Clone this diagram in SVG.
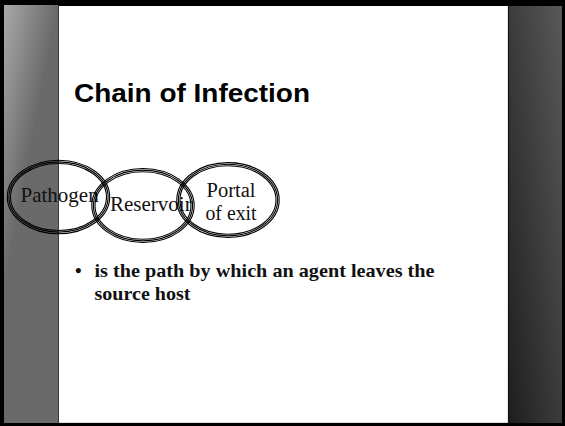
<svg xmlns="http://www.w3.org/2000/svg" width="565" height="426" viewBox="0 0 565 426">
  <defs>
    <linearGradient id="leftBand" gradientUnits="userSpaceOnUse" x1="4" y1="6" x2="56" y2="16">
      <stop offset="0" stop-color="#a8a8a8"/>
      <stop offset="1" stop-color="#6a6a6a"/>
    </linearGradient>
    <linearGradient id="rightBand" gradientUnits="userSpaceOnUse" x1="508" y1="423" x2="614" y2="409">
      <stop offset="0" stop-color="#1e1e1e"/>
      <stop offset="1" stop-color="#585858"/>
    </linearGradient>
  </defs>
  <style>
    .ring { fill: none; stroke: #000; stroke-width: 1.1; }
    .label { font-family: "Liberation Serif", "Times New Roman", serif; font-size: 21px; fill: #111; }
    .label-sm { font-family: "Liberation Serif", "Times New Roman", serif; font-size: 20px; fill: #111; }
    .title { font-family: "Liberation Sans", Arial, sans-serif; font-weight: bold; font-size: 25px; fill: #000; }
    .body { font-family: "Liberation Serif", "Times New Roman", serif; font-weight: bold; font-size: 19px; fill: #111; }
  </style>

  <!-- slide frame and side bands -->
  <g id="background">
    <rect x="0" y="0" width="565" height="426" fill="#000"/>
    <rect x="4" y="5" width="54" height="418" fill="url(#leftBand)"/>
    <rect x="59" y="6" width="449" height="417" fill="#fff"/>
    <line x1="59" y1="422.5" x2="508" y2="422.5" stroke="#d8d8d8" stroke-width="1"/>
    <line x1="58.5" y1="5" x2="58.5" y2="423" stroke="#3a3a3a" stroke-width="1"/>
    <rect x="509" y="6" width="53" height="417" fill="url(#rightBand)"/>
    <line x1="508.5" y1="6" x2="508.5" y2="423" stroke="#111" stroke-width="1.2"/>
  </g>

  <g id="title">
    <text class="title" x="74" y="102" textLength="236" lengthAdjust="spacingAndGlyphs">Chain of Infection</text>
  </g>

  <!-- chain links: each drawn as a triple-line ellipse -->
  <g id="node-pathogen">
    <ellipse class="ring" cx="58.5" cy="197" rx="51.2" ry="36.7"/>
    <ellipse class="ring" cx="58.5" cy="197" rx="49.6" ry="35.1"/>
    <ellipse class="ring" cx="58.5" cy="197" rx="48" ry="33.5"/>
    <text class="label" x="20.5" y="201.7">Pathogen</text>
  </g>

  <g id="node-reservoir">
    <ellipse class="ring" cx="143" cy="205.5" rx="51.2" ry="37"/>
    <ellipse class="ring" cx="143" cy="205.5" rx="49.6" ry="35.4"/>
    <ellipse class="ring" cx="143" cy="205.5" rx="48" ry="33.8"/>
    <text class="label" x="110" y="210.5">Reservoir</text>
  </g>

  <g id="node-portal">
    <ellipse class="ring" cx="228" cy="200" rx="51.2" ry="37.4"/>
    <ellipse class="ring" cx="228" cy="200" rx="49.6" ry="35.8"/>
    <ellipse class="ring" cx="228" cy="200" rx="48" ry="34.2"/>
    <text class="label-sm" x="206.5" y="197" textLength="49" lengthAdjust="spacingAndGlyphs">Portal</text>
    <text class="label-sm" x="205.5" y="219.5" textLength="51" lengthAdjust="spacingAndGlyphs">of exit</text>
  </g>

  <g id="bullet">
    <text class="body" x="75" y="277">•</text>
    <text class="body" x="94.5" y="277" textLength="340" lengthAdjust="spacingAndGlyphs">is the path by which an agent leaves the</text>
    <text class="body" x="94.5" y="299.5" textLength="96" lengthAdjust="spacingAndGlyphs">source host</text>
  </g>
</svg>
